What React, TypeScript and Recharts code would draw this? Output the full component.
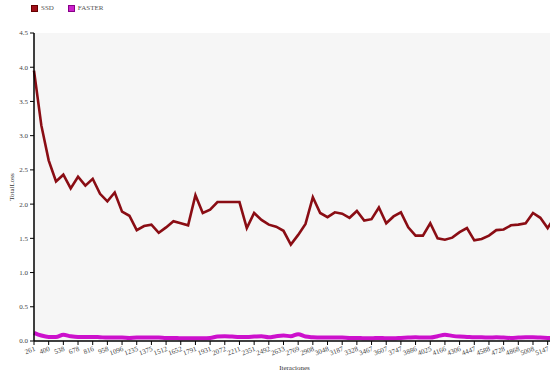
import { LineChart, Line, XAxis, YAxis, CartesianGrid } from 'recharts';

// tick labels shown on the x axis (every other iteration point)
const iterLabels = [
  '261', '400', '538', '678', '816', '958', '1096', '1235', '1375', '1512',
  '1652', '1791', '1931', '2072', '2211', '2351', '2492', '2633', '2769', '2908',
  '3048', '3187', '3328', '3467', '3607', '3747', '3886', '4025', '4166', '4306',
  '4447', '4588', '4728', '4868', '5008', '5147',
];

const ssdLoss = [
  3.95, 3.15, 2.64, 2.33, 2.43, 2.23, 2.4, 2.27, 2.37, 2.15,
  2.04, 2.17, 1.89, 1.83, 1.62, 1.68, 1.7, 1.58, 1.66, 1.75,
  1.72, 1.69, 2.13, 1.87, 1.92, 2.03, 2.03, 2.03, 2.03, 1.65,
  1.87, 1.77, 1.7, 1.67, 1.61, 1.41, 1.55, 1.71, 2.1, 1.87,
  1.81, 1.88, 1.86, 1.8, 1.9, 1.76, 1.78, 1.95, 1.72, 1.82,
  1.88, 1.66, 1.54, 1.54, 1.72, 1.5, 1.48, 1.51, 1.59, 1.65,
  1.47, 1.49, 1.54, 1.62, 1.63, 1.69, 1.7, 1.72, 1.87, 1.8,
  1.65, 1.82,
];

const fasterLoss = [
  0.12, 0.08, 0.06, 0.06, 0.09, 0.07, 0.06, 0.06, 0.06, 0.055,
  0.05, 0.05, 0.05, 0.045, 0.05, 0.05, 0.05, 0.05, 0.045, 0.045,
  0.04, 0.04, 0.04, 0.04, 0.045, 0.065, 0.07, 0.065, 0.06, 0.06,
  0.065, 0.07, 0.055, 0.07, 0.08, 0.07, 0.1, 0.065, 0.055, 0.05,
  0.05, 0.05, 0.05, 0.045, 0.045, 0.04, 0.04, 0.045, 0.04, 0.04,
  0.045, 0.05, 0.055, 0.05, 0.05, 0.07, 0.09, 0.075, 0.065, 0.06,
  0.055, 0.055, 0.05, 0.055, 0.05, 0.045, 0.05, 0.055, 0.055, 0.05,
  0.045, 0.04,
];

const yTicks = [0, 0.5, 1, 1.5, 2, 2.5, 3, 3.5, 4, 4.5];

const data = ssdLoss.map((v, i) => ({ it: i, ssd: v, faster: fasterLoss[i] }));

const font = '"Liberation Serif", "DejaVu Serif", serif';
const tickStyle = { fontSize: 7, fill: '#444', fontFamily: font };

export default function App() {
  return (
    <div
      style={{
        position: 'absolute',
        left: 0,
        top: 0,
        width: 550,
        height: 373,
        overflow: 'hidden',
        background: '#fff',
      }}
    >
      <div
        style={{
          position: 'absolute',
          left: 31,
          top: 4,
          display: 'flex',
          gap: 14,
          fontFamily: font,
          fontSize: 7,
          color: '#555',
          alignItems: 'center',
        }}
      >
        <div style={{ display: 'flex', alignItems: 'center', gap: 3 }}>
          <div style={{ width: 5, height: 5, background: '#a0101a', border: '0.5px solid #600' }} />
          <span>SSD</span>
        </div>
        <div style={{ display: 'flex', alignItems: 'center', gap: 3 }}>
          <div style={{ width: 5, height: 5, background: '#cc22cc', border: '0.5px solid #808' }} />
          <span>FASTER</span>
        </div>
      </div>
      <LineChart
        width={565}
        height={373}
        data={data}
        margin={{ top: 33, right: 10, bottom: 2, left: 0 }}
      >
        <CartesianGrid fill="#f6f6f6" horizontal={false} vertical={false} />
        <XAxis
          dataKey="it"
          interval={1}
          height={30}
          tickFormatter={(v) => iterLabels[v / 2] ?? ''}
          tick={{ ...tickStyle, angle: -20, textAnchor: 'end' }}
          tickSize={4}
          tickMargin={1}
          stroke="#000"
          strokeWidth={1.5}
          tickLine={{ stroke: '#000', strokeWidth: 1 }}
          label={{
            value: 'Iteraciones',
            position: 'insideBottom',
            offset: 1,
            style: { fontSize: 7, fill: '#333', fontFamily: font },
          }}
        />
        <YAxis
          domain={[0, 4.5]}
          ticks={yTicks}
          width={34}
          tickFormatter={(v) => v.toFixed(1)}
          tick={tickStyle}
          tickSize={4}
          tickMargin={2}
          stroke="#000"
          strokeWidth={1.5}
          tickLine={{ stroke: '#000', strokeWidth: 1 }}
          label={{
            value: 'TotalLoss',
            angle: -90,
            position: 'center',
            dx: -5,
            style: { fontSize: 7, fill: '#333', fontFamily: font },
          }}
        />
        <Line
          type="monotone"
          dataKey="faster"
          stroke="#cc11cc"
          strokeWidth={4}
          dot={false}
          activeDot={false}
          isAnimationActive={false}
        />
        <Line
          type="linear"
          dataKey="ssd"
          stroke="#8a0d14"
          strokeWidth={2.6}
          dot={false}
          activeDot={false}
          isAnimationActive={false}
        />
      </LineChart>
    </div>
  );
}
